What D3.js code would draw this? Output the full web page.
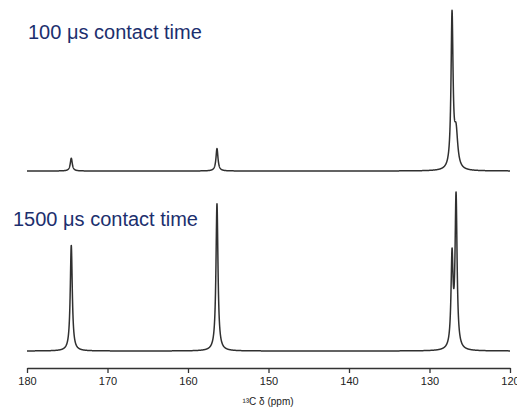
<!DOCTYPE html>
<html>
<head>
<meta charset="utf-8">
<script src="https://cdn.jsdelivr.net/npm/d3@7/dist/d3.min.js"></script>
<style>
  html, body { margin: 0; padding: 0; background: #fff; }
  svg { display: block; }
</style>
</head>
<body>
<svg id="chart" width="517" height="409"></svg>
<script>
// 13C CP-MAS spectra at two contact times: peak tables (ppm, relative intensity, FWHM in ppm)
const spectrumLabels = ["100 \u03bcs contact time", "1500 \u03bcs contact time"];
const peakShifts = [174.5, 156.4, 127.2, 126.7];
const shortContactHeights = [8, 14, 96, 22];
const shortContactWidths = [0.3, 0.3, 0.3, 0.5];
const longContactHeights = [66, 92, 56.5, 94.7];
const longContactWidths = [0.3, 0.3, 0.3, 0.3];
const tickValues = [180, 170, 160, 150, 140, 130, 120];
const axisTitle = "\u00b9\u00b3C \u03b4 (ppm)";

const svg = d3.select("#chart");

const x = d3.scaleLinear().domain([180, 120]).range([27, 510]);

// each trace gets its own vertical band; intensity 100 = tallest peak
const yTop = d3.scaleLinear().domain([0, 100]).range([171, 11]);
const yBottom = d3.scaleLinear().domain([0, 100]).range([351, 191]);

// sample grid along the chemical-shift axis
const grid = d3.range(180, 119.995, -0.01);

function lorentzSum(heights, widths) {
  return grid.map(ppm => {
    let v = 0;
    for (let i = 0; i < peakShifts.length; i++) {
      const hw = widths[i] / 2;
      const d = (ppm - peakShifts[i]) / hw;
      v += heights[i] / (1 + d * d);
    }
    return [ppm, v];
  });
}

function drawTrace(heights, widths, y) {
  const line = d3.line()
    .x(d => x(d[0]))
    .y(d => y(d[1]));
  svg.append("path")
    .datum(lorentzSum(heights, widths))
    .attr("d", line)
    .attr("fill", "none")
    .attr("stroke", "#303030")
    .attr("stroke-width", 1.5)
    .attr("stroke-linejoin", "round");
}

drawTrace(shortContactHeights, shortContactWidths, yTop);
drawTrace(longContactHeights, longContactWidths, yBottom);

// trace labels
svg.append("text")
  .attr("x", 28).attr("y", 39)
  .attr("font-family", "'Liberation Sans', Arial, sans-serif")
  .attr("font-size", 20)
  .attr("fill", "#1c2f6e")
  .text(spectrumLabels[0]);

svg.append("text")
  .attr("x", 13).attr("y", 226)
  .attr("font-family", "'Liberation Sans', Arial, sans-serif")
  .attr("font-size", 20)
  .attr("fill", "#1c2f6e")
  .text(spectrumLabels[1]);

// chemical-shift axis
const axis = d3.axisBottom(x)
  .tickValues(tickValues)
  .tickFormat(d3.format("d"))
  .tickSizeInner(5)
  .tickSizeOuter(0)
  .tickPadding(4);

const gAxis = svg.append("g")
  .attr("transform", "translate(0,368)")
  .call(axis);

gAxis.select(".domain").attr("stroke", "#333").attr("stroke-width", 1.3);
gAxis.selectAll(".tick line").attr("stroke", "#333").attr("stroke-width", 1.3);
gAxis.selectAll(".tick text")
  .attr("font-family", "'Liberation Sans', Arial, sans-serif")
  .attr("font-size", 11)
  .attr("fill", "#222");

svg.append("text")
  .attr("x", 268).attr("y", 405)
  .attr("text-anchor", "middle")
  .attr("font-family", "'Liberation Sans', Arial, sans-serif")
  .attr("font-size", 10)
  .attr("fill", "#222")
  .text(axisTitle);
</script>
</body>
</html>
